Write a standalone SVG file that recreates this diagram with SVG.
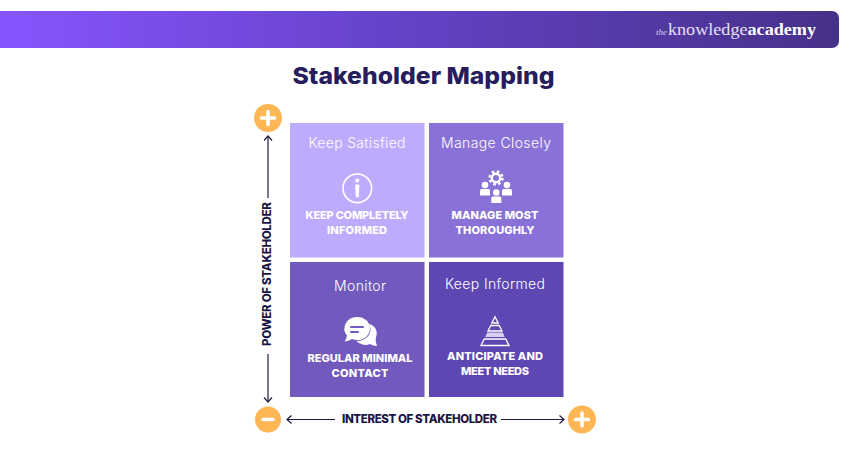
<svg xmlns="http://www.w3.org/2000/svg" width="850" height="450" viewBox="0 0 850 450">
<style>
text{font-family:"Inter","Open Sans","Liberation Sans",sans-serif}
.h{font-size:14px;font-weight:300;fill:#fff;text-anchor:middle}
.b{font-size:11px;font-weight:800;fill:#fff;text-anchor:middle}
.a{font-size:11.5px;font-weight:800;fill:#1a1546;text-anchor:middle}
.ln{stroke:#1f1b3d;stroke-width:1.2;fill:none}
.ic{fill:#fff;stroke:none}
.ol{fill:none;stroke:#fff;stroke-width:1.3}
.sign{stroke:#fff;stroke-width:3.6;stroke-linecap:round;fill:none}
</style>
<defs>
<linearGradient id="g" x1="0" x2="1" y1="0" y2="0"><stop offset="0" stop-color="#8655ff"/><stop offset="0.5" stop-color="#6441c4"/><stop offset="1" stop-color="#463189"/></linearGradient>
<marker id="ah" markerWidth="8" markerHeight="10" refX="7" refY="4.5" orient="auto-start-reverse" markerUnits="userSpaceOnUse"><path d="M2.5 0.5L7 4.500L2.500 8.500" fill="none" stroke="#1f1b3d" stroke-width="1.2"/></marker>
</defs>
<rect width="850" height="450" fill="#fff"/>
<g id="banner">
<path d="M0 11H832a7 7 0 0 1 7 7V41a7 7 0 0 1-7 7H0Z" fill="url(#g)"/>
<text x="656" y="35" font-size="9" font-style="italic" fill="#d8cfee" style="font-family:'Liberation Serif',serif">the</text>
<text x="668" y="35" font-size="16.5" fill="#e6e0f5" style="font-family:'Liberation Serif',serif" textLength="148" lengthAdjust="spacingAndGlyphs">knowledge<tspan font-weight="700" fill="#fff">academy</tspan></text>
</g>
<text id="title" x="423.5" y="84" text-anchor="middle" font-size="23.5" font-weight="800" fill="#251d5c" textLength="262" lengthAdjust="spacingAndGlyphs">Stakeholder Mapping</text>
<g id="keep-satisfied">
<rect x="290" y="123" width="134.5" height="134.5" fill="#bdabfe"/>
<text class="h" x="357" y="148" textLength="97">Keep Satisfied</text>
<circle cx="357.3" cy="188.300" r="14.300" fill="none" stroke="#fff" stroke-width="1.600"/>
<circle class="ic" cx="357.3" cy="180.500" r="2"/>
<path class="ic" d="M355.200 184.500H359.400L358.900 196a1.600 1.600 0 0 1-3.200 0Z"/>
<text class="b" x="357" y="219" textLength="103">KEEP COMPLETELY</text>
<text class="b" x="357" y="234" textLength="60">INFORMED</text>
</g>
<g id="manage-closely">
<rect x="429" y="123" width="134.5" height="134.5" fill="#8971d7"/>
<text class="h" x="496" y="148" textLength="110">Manage Closely</text>
<circle cx="496" cy="178" r="6.300" fill="none" stroke="#fff" stroke-width="2.800" stroke-dasharray="2.500 2.450"/>
<circle cx="496" cy="178" r="4.200" fill="none" stroke="#fff" stroke-width="2.400"/>
<circle class="ic" cx="485" cy="185" r="3.300"/><path class="ic" d="M480 195.500v-5q0-1.500 1.500-1.500h7q1.500 0 1.500 1.500v5Z"/>
<circle class="ic" cx="507" cy="185" r="3.300"/><path class="ic" d="M502 195.500v-5q0-1.500 1.500-1.500h7q1.500 0 1.500 1.500v5Z"/>
<circle class="ic" cx="496.300" cy="192.500" r="3.300"/><path class="ic" d="M491.300 203v-5q0-1.500 1.500-1.500h7q1.500 0 1.500 1.500v5Z"/>
<text class="b" x="495" y="219" textLength="87">MANAGE MOST</text>
<text class="b" x="495" y="234" textLength="79">THOROUGHLY</text>
</g>
<g id="monitor">
<rect x="290" y="262" width="134.5" height="135" fill="#7159bd"/>
<text class="h" x="360" y="291" textLength="52">Monitor</text>
<path class="ic" d="M369 324a9.500 9.500 0 0 1 7 13q-1 3 1 9q-4 0-7-2q-5 2-10-0.500q-2-1-3.500-2.500q8 0 12.500-6q3-5 0-11Z"/>
<path class="ic" d="M357.500 317a12.500 11.500 0 0 1 0 23q-3 0-5.500-1q-3 2-7.500 2.500q2-2.500 2.500-6a12.500 11.500 0 0 1 10.500-18.500Z"/>
<rect x="350" y="326" width="14" height="2" rx="1" fill="#7159bd"/>
<rect x="350" y="331" width="9" height="2" rx="1" fill="#7159bd"/>
<text class="b" x="360" y="362" textLength="105">REGULAR MINIMAL</text>
<text class="b" x="360" y="377" textLength="57">CONTACT</text>
</g>
<g id="keep-informed">
<rect x="429" y="262" width="134.5" height="135" fill="#5e47b3"/>
<text class="h" x="495" y="289" textLength="100">Keep Informed</text>
<path class="ol" d="M495 316.700L498.200 323H491.800Z"/>
<path class="ol" d="M490.800 325.500H499.200L502 331H488Z"/>
<path d="M487.300 332.500H502.700L504.800 337H485.200Z" fill="#d8cff5"/>
<path class="ol" d="M484.300 339H505.700L509 345.500H481Z"/>
<text class="b" x="495" y="360" textLength="96">ANTICIPATE AND</text>
<text class="b" x="495" y="375" textLength="68">MEET NEEDS</text>
</g>
<g id="axis-power"><text class="a" transform="translate(271 274) rotate(-90)" textLength="144">POWER OF STAKEHOLDER</text></g>
<g id="axis-interest"><text class="a" x="419.500" y="423" textLength="155">INTEREST OF STAKEHOLDER</text></g>
<g id="connectors">
<path class="ln" d="M268 198V136" marker-end="url(#ah)"/>
<path class="ln" d="M268 354V402" marker-end="url(#ah)"/>
<path class="ln" d="M335 419.500H287" marker-end="url(#ah)"/>
<path class="ln" d="M501 419.500H564" marker-end="url(#ah)"/>
</g>
<g id="plus-top"><circle cx="268" cy="118" r="14" fill="#ffb755"/><path class="sign" d="M268 111.500V124.500M261.500 118H274.500"/></g>
<g id="minus"><circle cx="268" cy="419.500" r="13" fill="#ffb755"/><path class="sign" d="M263 419.500H273"/></g>
<g id="plus-right"><circle cx="582" cy="419.500" r="14" fill="#ffb755"/><path class="sign" d="M582 413V426M575.500 419.500H588.500"/></g>
</svg>
